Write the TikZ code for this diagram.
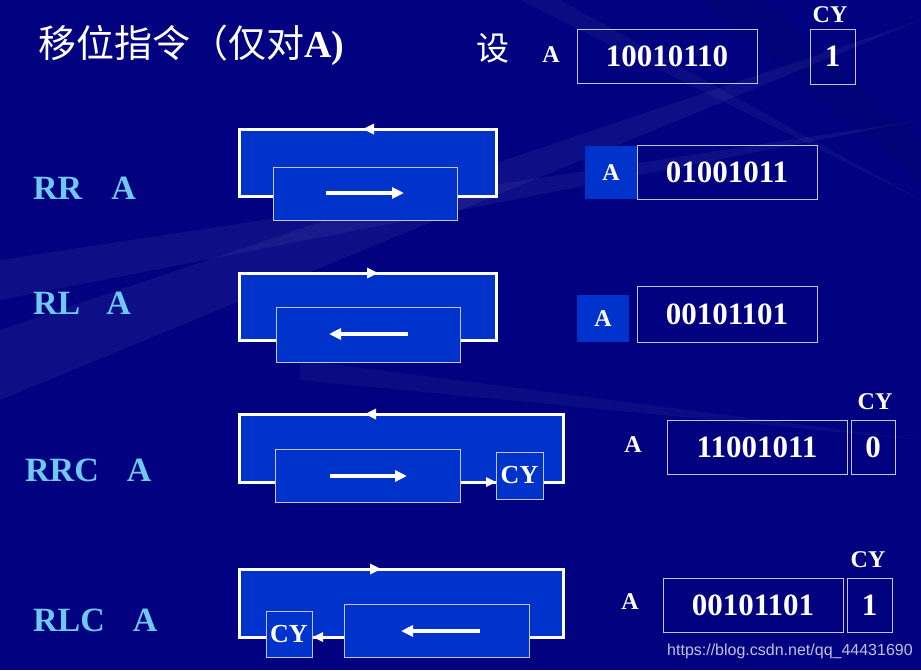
\documentclass[tikz,border=0pt]{standalone}
\usepackage{fontspec}
\setmainfont{Liberation Serif}
\newfontfamily\cjk{Noto Sans CJK SC}
\newfontfamily\wmfont{Liberation Sans}
\usetikzlibrary{arrows.meta}
\definecolor{bgc}{RGB}{2,2,128}
\definecolor{boxblue}{RGB}{0,51,204}
\definecolor{edgec}{RGB}{195,195,235}
\definecolor{labc}{RGB}{110,200,240}
\newcommand\fs[1]{\fontsize{#1}{#1}\selectfont}
\begin{document}
\begin{tikzpicture}[x=1pt,y=-1pt,
  outerbox/.style={draw=white, line width=3pt, fill=boxblue, inner sep=0pt},
  innerbox/.style={draw=edgec, line width=0.8pt, fill=boxblue, inner sep=0pt},
  cybox/.style={draw=edgec, line width=0.8pt, fill=boxblue, inner sep=0pt, text=white, font=\bfseries\fs{26}},
  abox/.style={fill=boxblue, inner sep=0pt, text=white, font=\bfseries\fs{24}},
  valbox/.style={draw=edgec, line width=0.8pt, inner sep=0pt, text=white, font=\bfseries\fs{31}, minimum width=180pt, minimum height=54pt},
  smallbox/.style={draw=edgec, line width=0.8pt, inner sep=0pt, text=white, font=\bfseries\fs{31}, minimum height=54pt},
  txt/.style={text=white, inner sep=0pt, font=\bfseries\fs{24}},
  lab/.style={text=labc, inner sep=0pt, anchor=west, font=\bfseries\fs{34}},
  warrow/.style={draw=white, line width=3.5pt, -{Triangle[length=12pt,width=11pt]}}
]
\fill[bgc] (0,0) rectangle (921,670);
\useasboundingbox (0,0) rectangle (921,670);
% faint streaks
\fill[white, opacity=0.05] (921,20) -- (0,330) -- (0,400) -- cycle;
\fill[white, opacity=0.05] (921,120) -- (0,260) -- (0,300) -- cycle;
\fill[white, opacity=0.04] (921,440) -- (300,360) -- (300,380) -- cycle;
\fill[black, opacity=0.06] (700,0) -- (921,180) -- (921,140) -- (760,0) -- cycle;
\fill[white, opacity=0.04] (921,200) -- (520,0) -- (560,0) -- cycle;

% title
\node[anchor=west, text=white, inner sep=0pt] (title) at (38,45)
  {\cjk\fs{38}移位指令（仅对\rmfamily\bfseries A)};
\node[anchor=west, text=white, inner sep=0pt] (she) at (476,48) {\cjk\fs{33}设};
\node[txt] (a0) at (551,55) {A};
\node[valbox] (v0) at (667,56) {10010110};
\node[smallbox, minimum width=45pt, minimum height=55pt] (c0) at (832.5,56.5) {1};
\node[txt] (cyl0) at (830,15) {CY};

% ---------- RR A ----------
\node[lab] (l1) at (33,188) {RR\hspace{29pt}A};
\node[outerbox, minimum width=257pt, minimum height=67pt] (o1) at (367.5,162.5) {};
\fill[white] (363,129) -- (374,123.5) -- (374,134.5) -- cycle;
\node[innerbox, minimum width=184pt, minimum height=53pt] (i1) at (365,193.5) {};
\coordinate (s1) at (326,193);
\coordinate (e1) at (404,193);
\draw[warrow] (s1) -- (e1);
\node[abox, minimum width=52pt, minimum height=53pt] (a1) at (611,172.5) {A};
\node[valbox] (v1) at (727,172) {01001011};

% ---------- RL A ----------
\node[lab] (l2) at (33,303) {RL\hspace{26pt}A};
\node[outerbox, minimum width=257pt, minimum height=67pt] (o2) at (367.5,306.5) {};
\fill[white] (378,273) -- (367,267.5) -- (367,278.5) -- cycle;
\node[innerbox, minimum width=184pt, minimum height=55pt] (i2) at (368,334.5) {};
\coordinate (s2) at (408,334);
\coordinate (e2) at (329,334);
\draw[warrow] (s2) -- (e2);
\node[abox, minimum width=52pt, minimum height=47pt] (a2) at (603,318.5) {A};
\node[valbox, minimum height=56pt] (v2) at (727,314) {00101101};

% ---------- RRC A ----------
\node[lab] (l3) at (25,470) {RRC\hspace{28pt}A};
\node[outerbox, minimum width=324pt, minimum height=68pt] (o3) at (401,448) {};
\fill[white] (365,414) -- (376,408.5) -- (376,419.5) -- cycle;
\node[innerbox, minimum width=185pt, minimum height=53pt] (i3) at (367.5,475.5) {};
\coordinate (s3) at (330,476);
\coordinate (e3) at (407,476);
\draw[warrow] (s3) -- (e3);
\node[cybox, minimum width=47pt, minimum height=47pt] (cy3) at (519.5,475.5) {CY};
\fill[white] (496,482) -- (486,477) -- (486,487) -- cycle;
\node[txt] (a3) at (633,445) {A};
\node[valbox] (v3) at (757,447) {11001011};
\node[smallbox, minimum width=44pt] (c3) at (873,447) {0};
\node[txt] (cyl3) at (875,402) {CY};

% ---------- RLC A ----------
\node[lab] (l4) at (33,620) {RLC\hspace{28pt}A};
\node[outerbox, minimum width=324pt, minimum height=68pt] (o4) at (401,603) {};
\fill[white] (381,569) -- (370,563.5) -- (370,574.5) -- cycle;
\node[cybox, minimum width=46pt, minimum height=46pt] (cy4) at (289,634) {CY};
\node[innerbox, minimum width=185pt, minimum height=53pt] (i4) at (436.5,630.5) {};
\coordinate (s4) at (480,631);
\coordinate (e4) at (401,631);
\draw[warrow] (s4) -- (e4);
\fill[white] (313,637) -- (323,632) -- (323,642) -- cycle;
\node[txt] (a4) at (630,602) {A};
\node[valbox] (v4) at (753,605) {00101101};
\node[smallbox, minimum width=45pt] (c4) at (869.5,605) {1};
\node[txt] (cyl4) at (868,560) {CY};

% watermark
\node[anchor=west, text=white!75!bgc, inner sep=0pt] (wm) at (667,651)
  {\wmfont\fs{16}https://blog.csdn.net/qq\_44431690};
\end{tikzpicture}
\end{document}
